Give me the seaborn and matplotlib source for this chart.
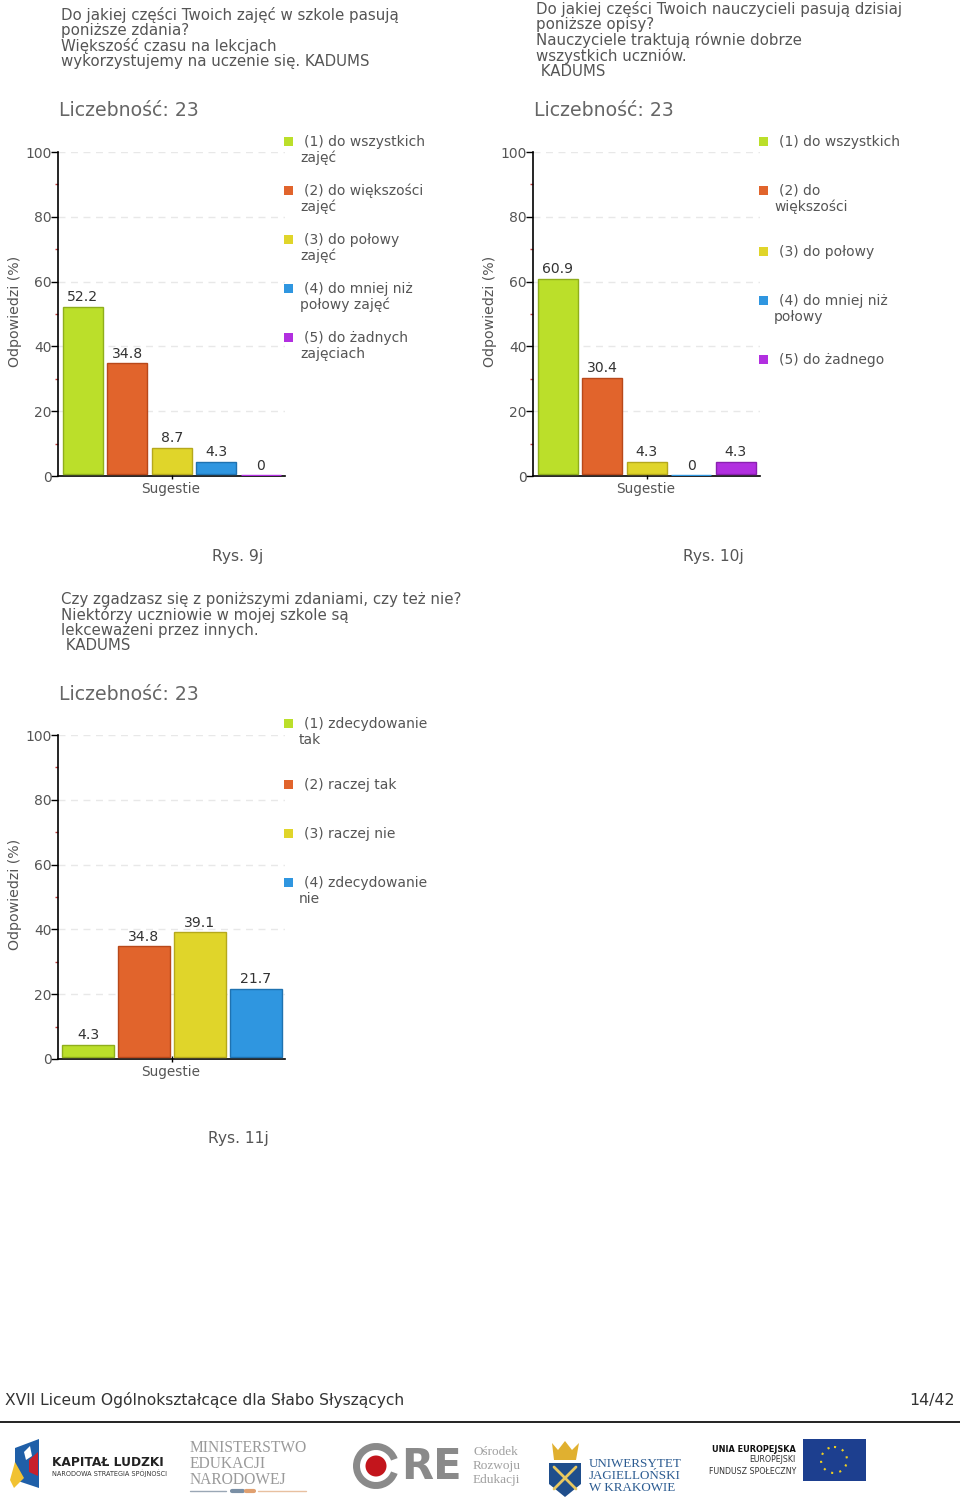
import pandas as pd
import matplotlib
matplotlib.use('Agg')
import matplotlib.pyplot as plt
from matplotlib.patches import Rectangle, Circle, Wedge, Polygon
import seaborn as sns

W, H = 960, 1510

# Chart values
values_9j = [52.2, 34.8, 8.7, 4.3, 0]
values_10j = [60.9, 30.4, 4.3, 0, 4.3]
values_11j = [4.3, 34.8, 39.1, 21.7]
cats_9j = ['1', '2', '3', '4', '5']
cats_11j = ['1', '2', '3', '4']
yticks = [0, 20, 40, 60, 80, 100]
minor_yticks = [10, 30, 50, 70, 90]
labels_9j = ['(1) do wszystkich\nzajęć', '(2) do większości\nzajęć', '(3) do połowy\nzajęć',
             '(4) do mniej niż\npołowy zajęć', '(5) do żadnych\nzajęciach']
labels_10j = ['(1) do wszystkich', '(2) do\nwiększości', '(3) do połowy',
              '(4) do mniej niż\npołowy', '(5) do żadnego']
labels_11j = ['(1) zdecydowanie\ntak', '(2) raczej tak', '(3) raczej nie', '(4) zdecydowanie\nnie']
title_9j = 'Do jakiej części Twoich zajęć w szkole pasują\nponiższe zdania?\nWiększość czasu na lekcjach\nwykorzystujemy na uczenie się. KADUMS'
title_10j = 'Do jakiej części Twoich nauczycieli pasują dzisiaj\nponiższe opisy?\nNauczyciele traktują równie dobrze\nwszystkich uczniów.\n KADUMS'
title_11j = 'Czy zgadzasz się z poniższymi zdaniami, czy też nie?\nNiektórzy uczniowie w mojej szkole są\nlekceważeni przez innych.\n KADUMS'

colors = ['#bbdf2a', '#e1642c', '#e0d52a', '#2f96e0', '#b22fe0']
edges = ['#8fae1c', '#b8481a', '#b5a81c', '#1f72b0', '#8a20b0']
grey = '#555555'

sns.set_theme(style='white')
plt.rcParams['font.family'] = ['DejaVu Sans']

fig = plt.figure(figsize=(W / 100, H / 100), dpi=100)
bg = fig.add_axes([0, 0, 1, 1])
bg.set_xlim(0, W)
bg.set_ylim(H, 0)
bg.axis('off')


def txt(x, y, s, size=9, color=grey, **kw):
    kw.setdefault('va', 'center')
    kw.setdefault('ha', 'left')
    return bg.text(x, y, s, fontsize=size, color=color, **kw)


def draw_chart(left, top, cats, values, labels, legend_ys, legend_x, title, title_y, bar_width, xlim):
    ax = fig.add_axes([left / W, 1 - (top + 324) / H, 227 / W, 324 / H])
    df = pd.DataFrame({'cat': cats, 'val': values})
    sns.barplot(data=df, x='cat', y='val', hue='cat', palette=colors[:len(cats)], legend=False,
                width=bar_width, ax=ax, zorder=3, saturation=1)
    for i, patch in enumerate(ax.patches[:len(cats)]):
        patch.set_edgecolor(edges[i])
        patch.set_linewidth(1.0)
        # bars float a little above the axis line in the original
        patch.set_y(0.5)
        patch.set_height(max(values[i] - 0.5, 0))
        if values[i] == 0:
            patch.set_y(0.3)
            patch.set_edgecolor(colors[i])
            patch.set_linewidth(1.0)
    for i, v in enumerate(values):
        ax.text(i, v + 0.8, f'{v:g}', ha='center', va='bottom', fontsize=10.1, color='#333333')
    ax.set_xlim(*xlim)
    ax.set_ylim(0, 100)
    ax.set_yticks(yticks)
    ax.set_yticks(minor_yticks, minor=True)
    ax.set_xticks([(len(cats) - 1) / 2])
    ax.set_xticklabels([''])
    ax.tick_params(axis='y', which='major', length=5, width=1, color='black', labelsize=10,
                   labelcolor=grey, pad=-0.5, left=True)
    ax.tick_params(axis='y', which='minor', length=2, width=1, color='#c04040', left=True)
    ax.tick_params(axis='x', length=4, width=1, color='black', bottom=True, direction='inout')
    ax.yaxis.grid(True, which='major', color='#e8e8e8', linestyle=(0, (5, 4)), linewidth=1, zorder=0)
    ax.set_axisbelow(True)
    ax.set_xlabel('')
    ax.set_ylabel('')
    for side in ['top', 'right']:
        ax.spines[side].set_visible(False)
    for side in ['left', 'bottom']:
        ax.spines[side].set_color('black')
        ax.spines[side].set_linewidth(1.2)
    ax.patch.set_alpha(0)

    txt(left - 43, top + 159, 'Odpowiedzi (%)', size=10.2, rotation=90, ha='center')
    txt(left + 113, top + 337, 'Sugestie', size=9.8, ha='center')
    txt(left + 1, top - 41, 'Liczebność: 23', size=13.6, color='#666666')
    txt(left + 3, title_y, title, size=10.8, va='top', linespacing=0.99)
    for i, (lab, ly) in enumerate(zip(labels, legend_ys)):
        bg.add_patch(Rectangle((left + 226, top + ly - 5), 9, 9, color=colors[i], lw=0, zorder=2))
        first, *rest = lab.split('\n')
        txt(left + 246, top + ly, first, size=10)
        for r in rest:
            txt(left + legend_x, top + ly + 16, r, size=10)


xlim_5 = (-0.563, 4.55)
xlim_4 = (-0.536, 3.518)
draw_chart(58, 152, cats_9j, values_9j, labels_9j, [-10, 39, 88, 137, 186], 242, title_9j, 7, 0.9, xlim_5)
draw_chart(533, 152, cats_9j, values_10j, labels_10j, [-10, 39, 100, 149, 208], 241, title_10j, 1, 0.9, xlim_5)
draw_chart(58, 735, cats_11j, values_11j, labels_11j, [-11, 50, 99, 148], 241, title_11j, 592, 0.93, xlim_4)

# Captions
txt(238, 556, 'Rys. 9j', size=11.2, ha='center')
txt(713, 556, 'Rys. 10j', size=11.2, ha='center')
txt(238, 1139, 'Rys. 11j', size=11.2, ha='center')

# Footer
txt(5, 1400, 'XVII Liceum Ogólnokształcące dla Słabo Słyszących', size=11.2, color='#333333')
txt(955, 1400, '14/42', size=11.4, color='#333333', ha='right')
bg.plot([0, 960], [1422, 1422], color='#222222', lw=1.4)

# Logos
bg.add_patch(Polygon([(15, 1448), (39, 1439), (39, 1488), (15, 1480)], color='#1f5fa8', lw=0))
bg.add_patch(Polygon([(10, 1480), (15, 1462), (24, 1478), (14, 1488)], color='#f1c232', lw=0))
bg.add_patch(Polygon([(29, 1460), (38, 1452), (38, 1476), (29, 1472)], color='#c8202c', lw=0))
bg.add_patch(Polygon([(24, 1452), (30, 1446), (32, 1456), (26, 1460)], color='white', lw=0))
txt(52, 1462, 'KAPITAŁ LUDZKI', size=8.8, color='#222222', fontweight='bold')
txt(52, 1473, 'NARODOWA STRATEGIA SPÓJNOŚCI', size=4.7, color='#333333')
txt(190, 1464, 'MINISTERSTWO\nEDUKACJI\nNARODOWEJ', size=11.2, color='#9a9a9a', family='Liberation Serif', linespacing=1.02)
bg.plot([190, 226], [1491, 1491], color='#9aa7b5', lw=1)
bg.plot([232, 243], [1491, 1491], color='#7a8fa5', lw=3)
bg.plot([246, 254], [1491, 1491], color='#e0a070', lw=3)
bg.plot([258, 306], [1491, 1491], color='#e8c0a0', lw=1)
bg.add_patch(Wedge((376, 1466), 23, 20, 340, width=7, color='#8a8a8a', lw=0))
bg.add_patch(Circle((376, 1466), 10.5, color='#c3151c', lw=0))
txt(401, 1467, 'RE', size=30, color='#8a8a8a', fontweight='bold')
txt(473, 1466, 'Ośrodek\nRozwoju\nEdukacji', size=9.5, color='#a0a0a0', family='Liberation Serif', linespacing=1.21)
bg.add_patch(Polygon([(549, 1463), (581, 1463), (581, 1484), (565, 1497), (549, 1484)], color='#1f4e8c', lw=0))
bg.add_patch(Polygon([(552, 1443), (558, 1450), (565, 1441), (572, 1450), (579, 1443), (576, 1460), (554, 1460)], color='#e0b030', lw=0))
bg.plot([554, 576], [1467, 1489], color='#e8c860', lw=2)
bg.plot([576, 554], [1467, 1489], color='#e8c860', lw=2)
txt(589, 1476, 'UNIWERSYTET\nJAGIELLOŃSKI\nW KRAKOWIE', size=9.4, color='#2a5a90', family='Liberation Serif', linespacing=1.0)
txt(796, 1449, 'UNIA EUROPEJSKA', size=5.9, color='#111111', fontweight='bold', ha='right')
txt(796, 1460, 'EUROPEJSKI', size=5.7, color='#333333', ha='right')
txt(796, 1471, 'FUNDUSZ SPOŁECZNY', size=5.7, color='#333333', ha='right')
bg.add_patch(Rectangle((803, 1439), 63, 42, color='#1d3f8f', lw=0))
bg.add_patch(Circle((834, 1460), 13, fill=False, ec='#f0d020', lw=1.5, ls=(0, (1, 3))))

fig.savefig('out.png', dpi=100, facecolor='white')
